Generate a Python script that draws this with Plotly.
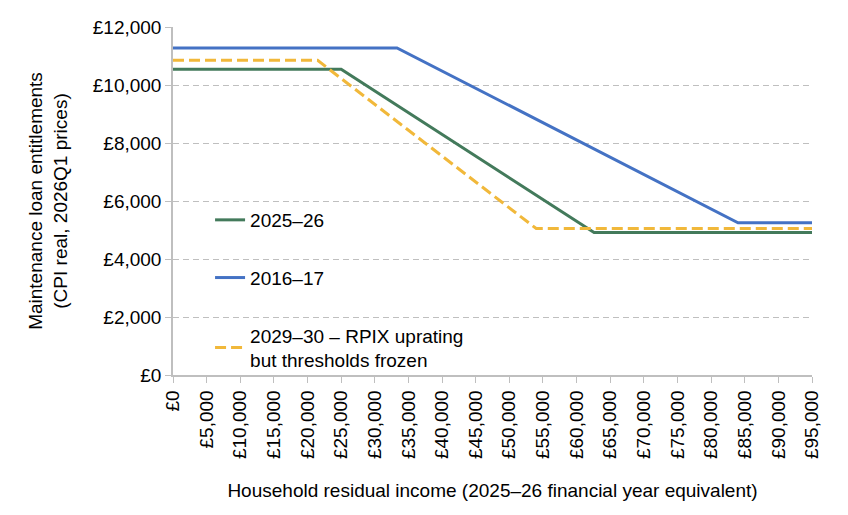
import plotly.graph_objects as go

# Data
income_2025 = [0, 25000, 62600, 95000]
loan_2025 = [10540, 10540, 4910, 4910]

income_2016 = [0, 33300, 84000, 95000]
loan_2016 = [11280, 11280, 5250, 5250]

income_2029 = [0, 21500, 54000, 95000]
loan_2029 = [10850, 10850, 5050, 5050]

x_ticks = list(range(0, 95001, 5000))
x_tick_labels = ["£0" if v == 0 else f"£{v:,}" for v in x_ticks]
y_ticks = list(range(0, 12001, 2000))
y_tick_labels = ["£0" if v == 0 else f"£{v:,}" for v in y_ticks]

FONT = "Liberation Sans, Arial, sans-serif"
FS = 19

fig = go.Figure()
fig.add_trace(go.Scatter(x=income_2025, y=loan_2025, mode="lines", name="2025–26",
                         line=dict(color="#437A5B", width=3), legendgroup="a"))
fig.add_trace(go.Scatter(x=income_2016, y=loan_2016, mode="lines", name="2016–17",
                         line=dict(color="#4472C4", width=3), legendgroup="b"))
fig.add_trace(go.Scatter(x=income_2029, y=loan_2029, mode="lines",
                         name="2029–30 – RPIX uprating<br>but thresholds frozen",
                         line=dict(color="#F1B83A", width=3, dash="11px,5px"), legendgroup="c"))

fig.update_layout(
    width=848, height=515,
    margin=dict(l=173, r=36, t=27, b=140),
    paper_bgcolor="white", plot_bgcolor="white",
    font=dict(family=FONT, size=FS, color="#000000"),
    showlegend=True,
    legend=dict(x=0.058, y=0.5, xanchor="left", yanchor="top",
                bgcolor="rgba(0,0,0,0)", tracegroupgap=30,
                font=dict(family=FONT, size=FS, color="#000000")),
    xaxis=dict(
        range=[0, 95000], tickmode="array", tickvals=x_ticks, ticktext=x_tick_labels,
        tickangle=-90, showgrid=False, zeroline=False,
        showline=True, linecolor="#BFBFBF", linewidth=1.5,
        ticks="outside", ticklen=6, tickcolor="#BFBFBF",
        tickfont=dict(family=FONT, size=FS),
        title=dict(text="Household residual income (2025–26 financial year equivalent)",
                   font=dict(family=FONT, size=FS), standoff=26),
    ),
    yaxis=dict(
        range=[0, 12000], tickmode="array", tickvals=y_ticks, ticktext=y_tick_labels,
        showgrid=True, gridcolor="#BFBFBF", griddash="6px,4px", gridwidth=1,
        zeroline=False, showline=True, linecolor="#BFBFBF", linewidth=1.5,
        ticks="outside", ticklen=6, tickcolor="#BFBFBF",
        tickfont=dict(family=FONT, size=FS),
        title=dict(text="Maintenance loan entitlements<br>(CPI real, 2026Q1 prices)",
                   font=dict(family=FONT, size=FS), standoff=20),
    ),
)

fig.write_html("out.html")
